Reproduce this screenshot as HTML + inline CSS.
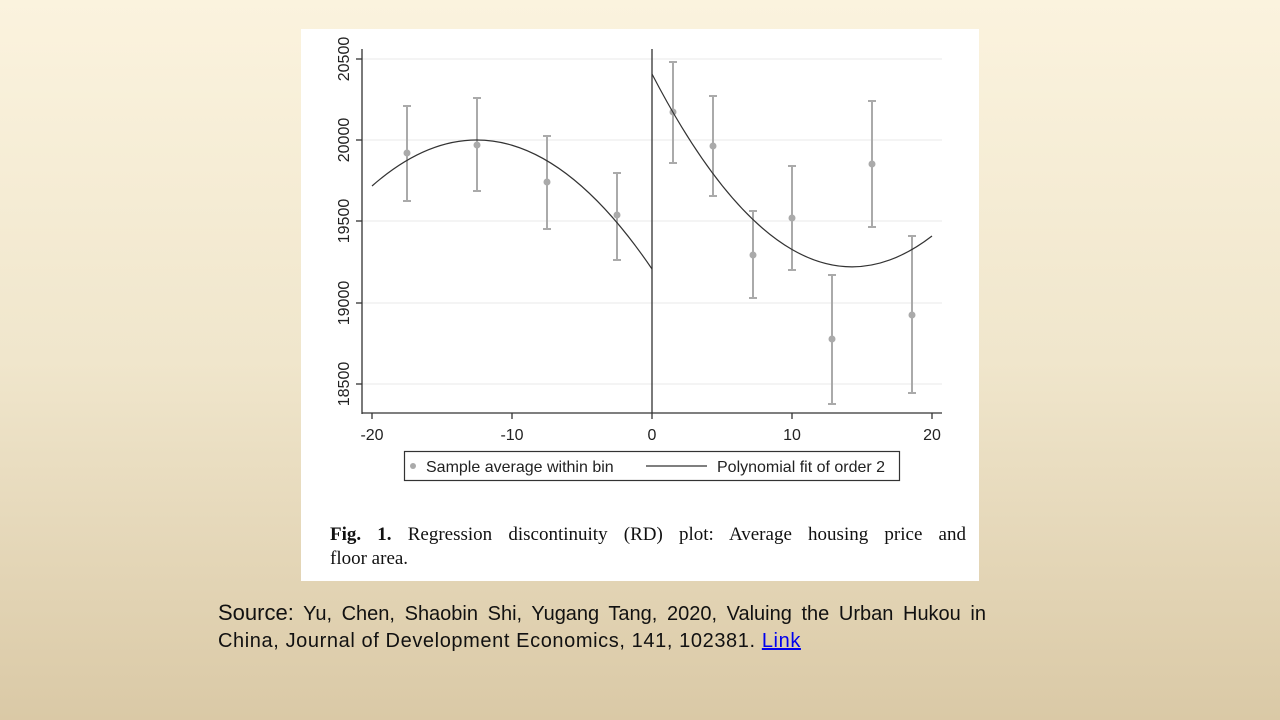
<!DOCTYPE html>
<html><head><meta charset="utf-8"><style>
body{margin:0;width:1280px;height:720px;overflow:hidden;background:linear-gradient(#fbf3de,#f0e6cc 50%,#dac9a6);font-family:"Liberation Sans",sans-serif;position:relative}
#panel{position:absolute;left:301px;top:29px;width:678px;height:552px;background:#fff}
.cl{position:absolute;left:330px;width:636px;font-family:"Liberation Serif",serif;font-size:19px;line-height:24px;color:#111;white-space:nowrap}
.j{text-align:justify;text-align-last:justify}
.sl{position:absolute;left:218px;width:768px;font-size:20px;line-height:28px;color:#111;white-space:nowrap}
.sl a{color:#00e;text-decoration:underline}
</style></head><body>
<div id="panel"></div>
<svg width="1280" height="720" style="position:absolute;left:0;top:0">
<g stroke="#eaeaea" stroke-width="1">
<line x1="362" x2="942" y1="59" y2="59"/><line x1="362" x2="942" y1="140" y2="140"/><line x1="362" x2="942" y1="221" y2="221"/><line x1="362" x2="942" y1="303" y2="303"/><line x1="362" x2="942" y1="384" y2="384"/>
</g>
<g stroke="#333" stroke-width="1.3" fill="none">
<line x1="362" y1="49" x2="362" y2="414"/><line x1="362" y1="413" x2="942" y2="413"/>
<line x1="356" x2="362" y1="59" y2="59"/><line x1="356" x2="362" y1="140" y2="140"/><line x1="356" x2="362" y1="221" y2="221"/><line x1="356" x2="362" y1="303" y2="303"/><line x1="356" x2="362" y1="384" y2="384"/>
<line x1="372" x2="372" y1="413" y2="419"/><line x1="512" x2="512" y1="413" y2="419"/><line x1="652" x2="652" y1="413" y2="419"/><line x1="792" x2="792" y1="413" y2="419"/><line x1="932" x2="932" y1="413" y2="419"/>
<line x1="652" y1="49" x2="652" y2="413"/>
</g>
<g font-size="16" fill="#222" text-anchor="middle">
<text x="372" y="440">-20</text><text x="512" y="440">-10</text><text x="652" y="440">0</text><text x="792" y="440">10</text><text x="932" y="440">20</text>
<text transform="translate(349,59) rotate(-90)">20500</text>
<text transform="translate(349,140) rotate(-90)">20000</text>
<text transform="translate(349,221) rotate(-90)">19500</text>
<text transform="translate(349,303) rotate(-90)">19000</text>
<text transform="translate(349,384) rotate(-90)">18500</text>
</g>
<g stroke="#aaa" stroke-width="2" fill="#aaa">
<path d="M407 106V201M403 106h8M403 201h8"/><circle cx="407" cy="153" r="3.5" stroke="none"/>
<path d="M477 98V191M473 98h8M473 191h8"/><circle cx="477" cy="145" r="3.5" stroke="none"/>
<path d="M547 136V229M543 136h8M543 229h8"/><circle cx="547" cy="182" r="3.5" stroke="none"/>
<path d="M617 173V260M613 173h8M613 260h8"/><circle cx="617" cy="215" r="3.5" stroke="none"/>
<path d="M673 62V163M669 62h8M669 163h8"/><circle cx="673" cy="112" r="3.5" stroke="none"/>
<path d="M713 96V196M709 96h8M709 196h8"/><circle cx="713" cy="146" r="3.5" stroke="none"/>
<path d="M753 211V298M749 211h8M749 298h8"/><circle cx="753" cy="255" r="3.5" stroke="none"/>
<path d="M792 166V270M788 166h8M788 270h8"/><circle cx="792" cy="218" r="3.5" stroke="none"/>
<path d="M832 275V404M828 275h8M828 404h8"/><circle cx="832" cy="339" r="3.5" stroke="none"/>
<path d="M872 101V227M868 101h8M868 227h8"/><circle cx="872" cy="164" r="3.5" stroke="none"/>
<path d="M912 236V393M908 236h8M908 393h8"/><circle cx="912" cy="315" r="3.5" stroke="none"/>
</g>
<g stroke="#333" stroke-width="1.2" fill="none">
<path d="M372 186Q512 63 652 269"/>
<path d="M652 74Q792 344 932 236"/>
</g>
<rect x="404.5" y="451.5" width="495" height="29" fill="#fff" stroke="#333" stroke-width="1.2"/>
<circle cx="413" cy="466" r="3" fill="#aaa"/>
<text x="426" y="472" font-size="16" fill="#222">Sample average within bin</text>
<line x1="646" x2="707" y1="466" y2="466" stroke="#333" stroke-width="1.2"/>
<text x="717" y="472" font-size="16" fill="#222">Polynomial fit of order 2</text>
</svg>
<div class="cl j" style="top:523px"><b>Fig. 1.</b> Regression discontinuity (RD) plot: Average housing price and</div>
<div class="cl" style="top:547px">floor area.</div>
<div class="sl j" style="top:599px"><span style="font-size:22px">Source:</span> Yu, Chen, Shaobin Shi, Yugang Tang, 2020, Valuing the Urban Hukou in</div>
<div class="sl" style="top:627px;letter-spacing:0.6px">China, Journal of Development Economics, 141, 102381. <a>Link</a></div>
</body></html>
